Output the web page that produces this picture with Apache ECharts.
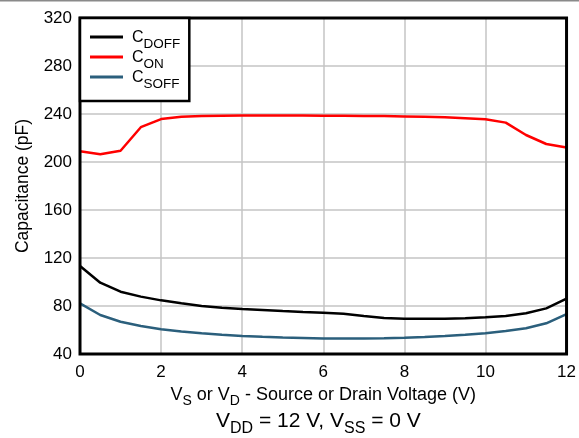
<!DOCTYPE html>
<html><head><meta charset="utf-8">
<script src="https://cdn.jsdelivr.net/npm/echarts@6/dist/echarts.min.js"></script>
<style>html,body{margin:0;padding:0;background:#fff}#c{width:579px;height:438px}</style>
</head><body><div id="c"></div>
<script>
const voltage = [0,0.5,1,1.5,2,2.5,3,3.5,4,4.5,5,5.5,6,6.5,7,7.5,8,8.5,9,9.5,10,10.5,11,11.5,12];
const cDoff = [113.3,99.4,91.9,87.8,84.7,82.2,80,78.5,77.5,76.7,75.8,75,74.4,73.6,71.7,70,69.4,69.3,69.4,69.8,70.6,71.7,73.9,78,86.1];
const cOn = [209,206.4,209.4,229,235.8,237.8,238.3,238.6,238.8,238.8,238.8,238.7,238.6,238.5,238.4,238.3,238,237.7,237.3,236.5,235.6,232.8,222.5,215,212];
const cSoff = [82.2,72.5,66.9,63.3,60.6,58.7,57.2,56,55,54.3,53.8,53.4,53,53,53,53.2,53.6,54.2,55,56,57.2,59.2,61.4,65.6,73.3];
const yTicks = [40,80,120,160,200,240,280,320];
const xTicks = [0,2,4,6,8,10,12];
const seriesNames = ['CDOFF','CON','CSOFF'];
const subs = {CDOFF:'DOFF', CON:'ON', CSOFF:'SOFF'};
const colors = ['#000000','#ff0000','#2b5f7c'];

const chart = echarts.init(document.getElementById('c'));
const FONT = '"Liberation Sans", Arial, sans-serif';
const mk = (name, data, i) => ({
  name, type:'line', data: voltage.map((v,k)=>[v,data[k]]),
  showSymbol:false, symbol:'none', smooth:false,
  lineStyle:{color:colors[i], width:2.5}, itemStyle:{color:colors[i]}, z:3
});
chart.setOption({
  animation:false,
  textStyle:{fontFamily:FONT},
  grid:{left:80, right:11, top:18, bottom:84, show:true, borderColor:'#000', borderWidth:3, backgroundColor:'transparent', z:5},
  title:{
    text:'{m|V}{s|DD}{m| = 12 V, V}{s|SS}{m| = 0 V}',
    left:211, top:401,
    textStyle:{fontFamily:FONT, fontWeight:'normal', rich:{
      m:{fontSize:21, color:'#000', fontFamily:FONT, fontWeight:'normal', lineHeight:26, verticalAlign:'bottom'},
      s:{fontSize:16, color:'#000', fontFamily:FONT, fontWeight:'normal', lineHeight:26, verticalAlign:'bottom', padding:[0,0,-5,0]}
    }}
  },
  legend:{
    left:80, top:18, orient:'vertical',
    data: seriesNames,
    backgroundColor:'#fff', borderColor:'#000', borderWidth:2.5, borderRadius:0,
    padding:[12,9,10,10], itemGap:-1,
    icon:'rect', itemWidth:33, itemHeight:3,
    formatter: n => '{m|C}{s|' + subs[n] + '}',
    textStyle:{rich:{
      m:{fontSize:16, color:'#000', fontFamily:FONT, lineHeight:18, verticalAlign:'bottom', padding:[0,0,0,4]},
      s:{fontSize:13.5, color:'#000', fontFamily:FONT, lineHeight:18, verticalAlign:'bottom', padding:[0,0,-5,0]}
    }},
    z:10
  },
  xAxis:{
    type:'value', min:0, max:12, interval:2,
    name:'{m|V}{s|S}{m| or V}{s|D}{m| - Source or Drain Voltage (V)}',
    nameLocation:'middle', nameGap:23,
    nameTextStyle:{rich:{
      m:{fontSize:18, color:'#000', fontFamily:FONT, lineHeight:20, verticalAlign:'bottom'},
      s:{fontSize:14, color:'#000', fontFamily:FONT, lineHeight:20, verticalAlign:'bottom', padding:[0,0,-4,0]}
    }},
    axisLine:{show:false}, axisTick:{show:false},
    axisLabel:{fontSize:17, color:'#000', margin:10, fontFamily:FONT,
      formatter: v => xTicks.includes(v) ? String(v) : ''},
    splitLine:{show:true, lineStyle:{color:'#c4c4c4', width:1.5}}
  },
  yAxis:{
    type:'value', min:40, max:320, interval:40,
    name:'Capacitance (pF)', nameLocation:'middle', nameGap:48, nameRotate:90,
    nameTextStyle:{fontSize:17.5, color:'#000', fontFamily:FONT},
    axisLine:{show:false}, axisTick:{show:false},
    axisLabel:{fontSize:17, color:'#000', margin:8, fontFamily:FONT,
      formatter: v => yTicks.includes(v) ? String(v) : ''},
    splitLine:{show:true, lineStyle:{color:'#c4c4c4', width:1.5}}
  },
  graphic:[{type:'rect', shape:{x:0,y:0,width:579,height:1.5}, style:{fill:'#8a8a8a'}, silent:true}],
  series:[mk('CDOFF',cDoff,0), mk('CON',cOn,1), mk('CSOFF',cSoff,2)]
});
</script></body></html>
